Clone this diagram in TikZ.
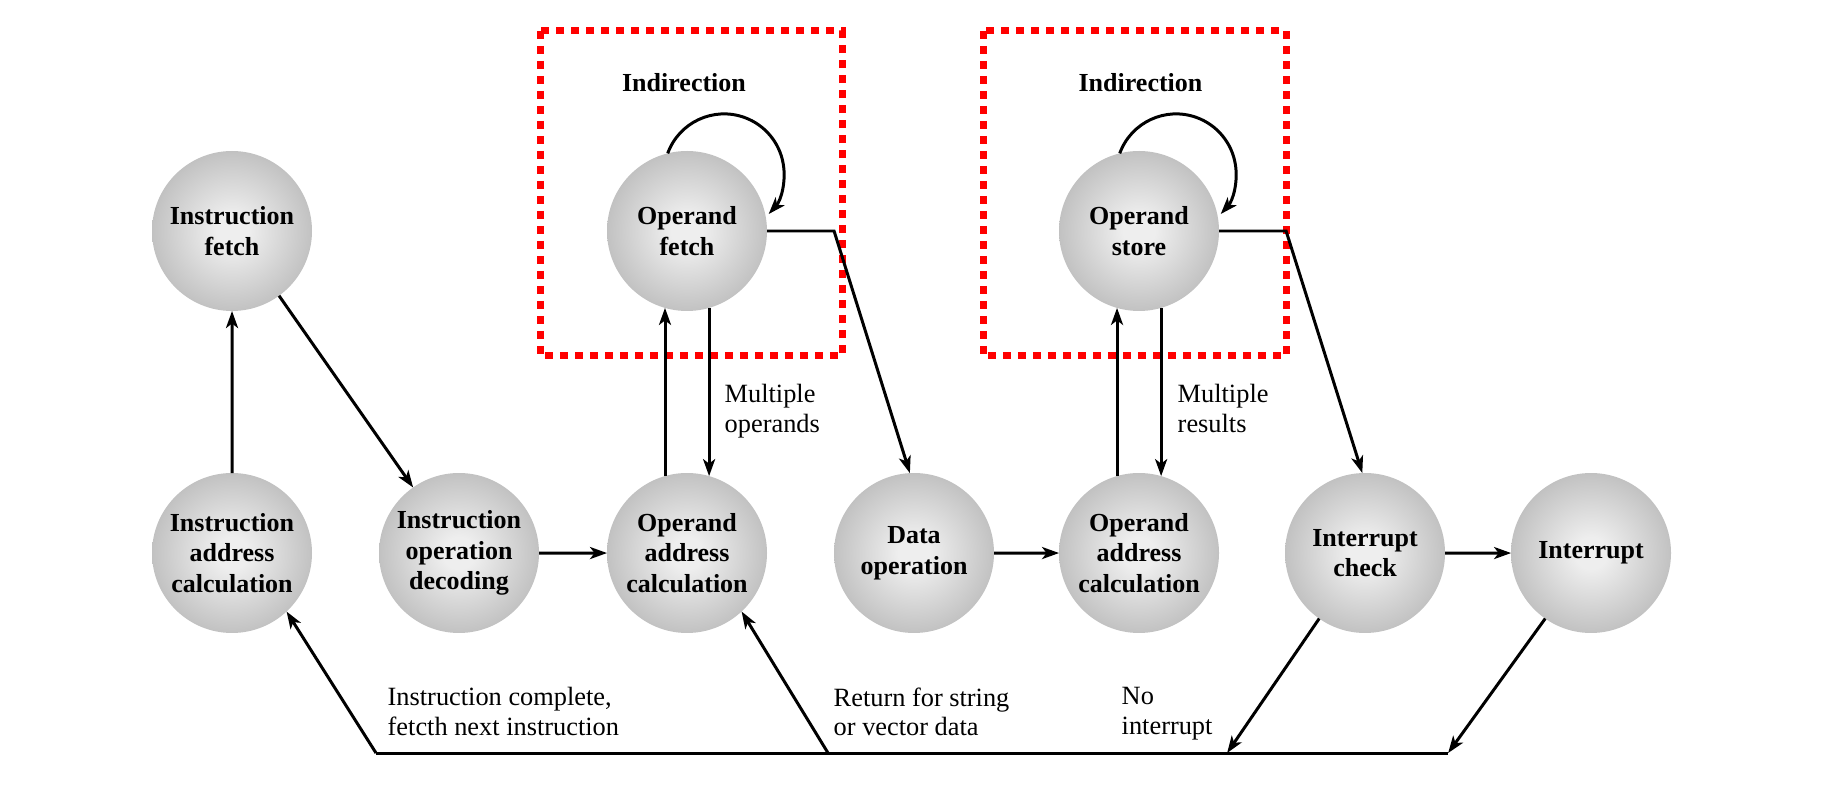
\documentclass[tikz,border=0pt]{standalone}
\usepackage{fontspec}
\setmainfont{Liberation Serif}
\usetikzlibrary{arrows.meta,calc}
\definecolor{ballin}{RGB}{238,238,238}
\definecolor{ballmid}{RGB}{196,196,196}
\definecolor{ballout}{RGB}{150,150,150}
\definecolor{boxred}{RGB}{255,0,0}
\pgfdeclareradialshading{ballshade}{\pgfpoint{0bp}{0bp}}{color(0bp)=(ballin); color(5bp)=(ballin); color(24bp)=(ballmid); color(42bp)=(ballout); color(50bp)=(ballout)}

\begin{document}
\begin{tikzpicture}[scale=0.1,
  stage/.style={circle,minimum size=16mm,inner sep=0pt,outer sep=0pt,shading=ballshade,align=center,font=\bfseries\fontsize{7.4}{8.7}\selectfont},
  note/.style={anchor=north west,inner sep=0pt,align=left,font=\fontsize{7.5}{8.3}\selectfont},
  indlabel/.style={anchor=base,inner sep=0pt,font=\bfseries\fontsize{7.4}{8.7}\selectfont},
  flow/.style={-{Stealth[length=1.7mm,width=1.2mm,inset=0.45mm]},line width=0.85pt},
  wire/.style={line width=0.85pt},
  indbox/.style={draw=boxred,line width=0.7mm,dash pattern=on 0.8mm off 0.7mm}]
            \useasboundingbox (0,0) rectangle (182.5,-79.1);
            \draw [indbox] (54.0,-3.1) rectangle (84.2,-35.6);
            \draw [indbox] (98.3,-3.1) rectangle (128.6,-35.6);
            \node [stage] (ifetch) at (23.2,-23.1) {Instruction\\fetch};
            \node [stage] (iaddr) at (23.2,-55.3) {Instruction\\address\\calculation};
            \node [stage] (idecode) at (45.9,-55.3) {Instruction\\operation\\decoding};
            \node [stage] (oaddra) at (68.7,-55.3) {Operand\\address\\calculation};
            \node [stage] (ofetch) at (68.7,-23.1) {Operand\\fetch};
            \node [stage] (dataop) at (91.4,-55.3) {Data\\operation};
            \node [stage] (oaddrb) at (113.9,-55.3) {Operand\\address\\calculation};
            \node [stage] (ostore) at (113.9,-23.1) {Operand\\store};
            \node [stage] (icheck) at (136.5,-55.3) {Interrupt\\check};
            \node [stage] (intr) at (159.1,-55.3) {Interrupt};
            \node [indlabel] (inda) at (68.4,-9.17) {Indirection};
            \node [indlabel] (indb) at (114.05,-9.17) {Indirection};
            \node [note] (mops) at (72.4,-38.4) {Multiple\\operands};
            \node [note] (mres) at (117.7,-38.4) {Multiple\\results};
            \node [note] (done) at (38.7,-68.7) {Instruction complete,\\fetcth next instruction};
            \node [note] (rtn) at (83.3,-68.7) {Return for string\\or vector data};
            \node [note] (noint) at (112.1,-68.7) {No\\interrupt};
            \coordinate (ofbend) at (83.4,-23.1);
            \coordinate (osbend) at (128.6,-23.1);
            \coordinate (botl) at (37.6,-75.3);
            \coordinate (botm) at (82.8,-75.3);
            \coordinate (botn) at (122.7,-75.3);
            \coordinate (botr) at (144.8,-75.3);
            \draw [flow] (iaddr) -- (ifetch);
            \draw [flow] (ifetch.-54) -- (idecode.125);
            \draw [flow] (idecode) -- (oaddra);
            \draw [flow] (oaddra.106) -- (ofetch.254);
            \draw [flow] (ofetch.286) -- (oaddra.74);
            \draw [flow] (ofetch.east) -- (ofbend) -- (dataop.93);
            \draw [flow] (dataop) -- (oaddrb);
            \draw [flow] (oaddrb.106) -- (ostore.254);
            \draw [flow] (ostore.286) -- (oaddrb.74);
            \draw [flow] (ostore.east) -- (osbend) -- (icheck.92);
            \draw [flow] (icheck) -- (intr);
            \draw [flow] (ofetch.104) arc [start angle=160,end angle=-42,radius=6];
            \draw [flow] (ostore.104) arc [start angle=160,end angle=-42,radius=6];
            \draw [wire] (botr) -- (botl);
            \draw [flow] (botl) -- (iaddr.-47);
            \draw [flow] (botm) -- (oaddra.-47);
            \draw [flow] (icheck.-125) -- (botn);
            \draw [flow] (intr.-125) -- (botr);
\end{tikzpicture}
\end{document}
